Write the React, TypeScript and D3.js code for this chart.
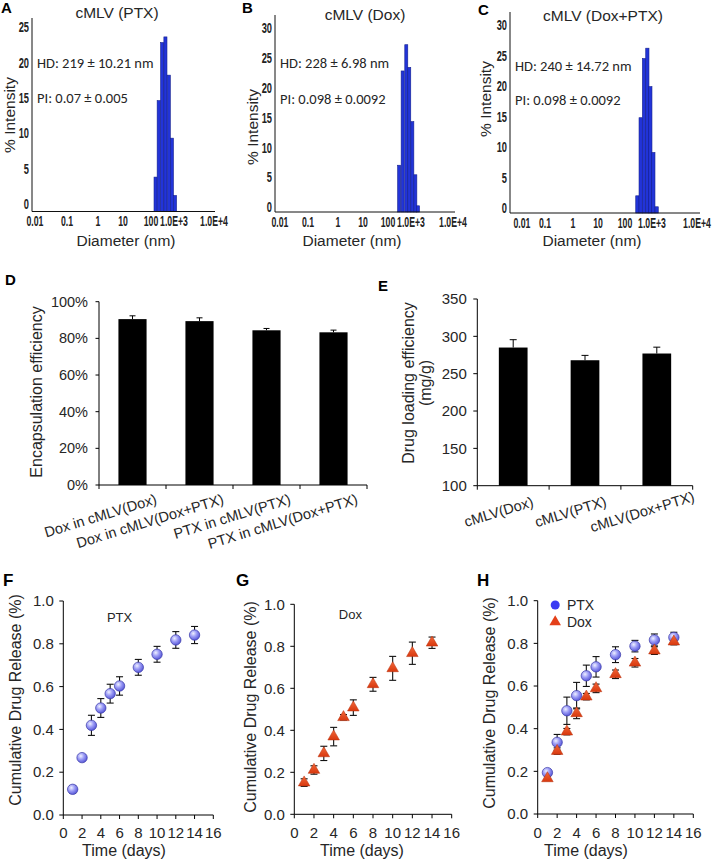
import React from "react";
import * as d3 from "d3";

const FONT = "'Liberation Sans', Arial, Helvetica, sans-serif";
const CAL = "Carlito, Lato, 'Liberation Sans', sans-serif";
const INK = "#262626";

// ---------- A–C : size distribution ----------
const histLetters = ["A", "B", "C"];
const histTitles = ["cMLV (PTX)", "cMLV (Dox)", "cMLV (Dox+PTX)"];
const hdTexts = ["HD: 219 ± 10.21 nm", "HD: 228 ± 6.98 nm", "HD: 240 ± 14.72 nm"];
const piTexts = ["PI: 0.07 ± 0.005", "PI: 0.098 ± 0.0092", "PI: 0.098 ± 0.0092"];
const diameterTicks = [0.01, 0.1, 1, 10, 100, 1000, 10000];
const diameterTickLabels = ["0.01", "0.1", "1", "10", "100", "1.0E+3", "1.0E+4"];
const binDiametersPTX = [158, 216, 305, 424, 593, 811, 1059];
const intensityPTX = [3.8, 14.6, 22.8, 23.6, 18.2, 9.3, 1.2];
const binDiametersDox = [305, 433, 624, 841, 1077, 1270, 1468];
const intensityDox = [7.0, 22.8, 27.2, 23.4, 14.3, 5.4, 0.2];
const binDiametersDoxPTX = [287, 380, 505, 673, 869, 1072, 1268];
const intensityDoxPTX = [2.0, 14.8, 24.5, 26.2, 19.9, 9.1, 0.2];
const intensityTicksPTX = [0, 5, 10, 15, 20, 25];
const intensityTicksDox = [0, 5, 10, 15, 20, 25, 30];

// ---------- D : encapsulation efficiency ----------
const eeCategories = ["Dox in cMLV(Dox)", "Dox in cMLV(Dox+PTX)", "PTX in cMLV(PTX)", "PTX in cMLV(Dox+PTX)"];
const eeValues = [90.5, 89.4, 84.4, 83.3];
const eeErrors = [1.8, 1.8, 1.0, 1.2];
const eeTicks = [0, 20, 40, 60, 80, 100];

// ---------- E : drug loading efficiency ----------
const dleCategories = ["cMLV(Dox)", "cMLV(PTX)", "cMLV(Dox+PTX)"];
const dleValues = [285, 268, 277];
const dleErrors = [10.5, 6.5, 8.5];
const dleTicks = [100, 150, 200, 250, 300, 350];

// ---------- F–H : cumulative release ----------
const days = [1, 2, 3, 4, 5, 6, 8, 10, 12, 14];
const releasePTX = [0.12, 0.268, 0.419, 0.5, 0.567, 0.603, 0.69, 0.751, 0.818, 0.841];
const releasePTXErr = [0.017, 0.008, 0.047, 0.044, 0.044, 0.043, 0.037, 0.037, 0.039, 0.04];
const releaseDox = [0.151, 0.211, 0.29, 0.37, 0.462, 0.508, 0.619, 0.695, 0.767, 0.817];
const releaseDoxErr = [0.018, 0.02, 0.034, 0.044, 0.013, 0.037, 0.033, 0.057, 0.053, 0.027];
const comboPTX = [0.194, 0.336, 0.484, 0.555, 0.648, 0.69, 0.747, 0.787, 0.816, 0.828];
const comboPTXErr = [0.01, 0.037, 0.064, 0.062, 0.05, 0.048, 0.037, 0.027, 0.028, 0.024];
const comboDox = [0.167, 0.295, 0.386, 0.472, 0.55, 0.589, 0.655, 0.709, 0.766, 0.808];
const comboDoxErr = [0.01, 0.015, 0.015, 0.025, 0.015, 0.02, 0.02, 0.02, 0.018, 0.015];
const timeTicks = [0, 2, 4, 6, 8, 10, 12, 14, 16];
const releaseTicks = [0, 0.2, 0.4, 0.6, 0.8, 1.0];

const histLayouts = [
  { left: 32, top: 18, bottom: 211.5, right: 215, tickPx: [35, 67, 98, 123, 151, 174, 214], barW: 3.1,
    zeroPx: 204, refVal: 25, refPx: 27,
    titleX: 117, titleY: 18, textX: 37, hdY: 68, piY: 103, ylabX: 10, ylabY: 115, xlabX: 126, xlabY: 246,
    letterX: 1, letterY: 13, tickY: 226 },
  { left: 275, top: 15, bottom: 212, right: 455, tickPx: [280, 308, 338, 363, 388, 411, 453], barW: 3.0,
    zeroPx: 207, refVal: 30, refPx: 28,
    titleX: 365, titleY: 20, textX: 280, hdY: 68, piY: 104, ylabX: 253, ylabY: 127, xlabX: 352, xlabY: 246,
    letterX: 242, letterY: 13, tickY: 227 },
  { left: 510, top: 12, bottom: 213, right: 700, tickPx: [522, 545, 573, 598, 625, 652, 697], barW: 3.25,
    zeroPx: 208, refVal: 30, refPx: 25,
    titleX: 603, titleY: 21, textX: 515, hdY: 71, piY: 105, ylabX: 486, ylabY: 99, xlabX: 592, xlabY: 246,
    letterX: 478, letterY: 15, tickY: 228 },
];

function Histogram({ i, bins, values, ticks }) {
  const L = histLayouts[i];
  const x = d3.scaleLog().domain(diameterTicks).range(L.tickPx);
  const y = d3.scaleLinear().domain([0, L.refVal]).range([L.zeroPx, L.refPx]);
  return (
    <g>
      <text x={L.letterX} y={L.letterY} fontFamily={FONT} fontWeight="bold" fontSize={15} fill="#000">{histLetters[i]}</text>
      <text x={L.titleX} y={L.titleY} textAnchor="middle" fontFamily={FONT} fontSize={15.5} fill={INK}>{histTitles[i]}</text>
      {values.map((v, k) => (
        <rect key={k} x={x(bins[k]) - L.barW / 2} width={L.barW} y={y(v)} height={L.bottom - y(v)}
          fill="#2234d8" stroke="#14208e" strokeWidth={0.6} />
      ))}
      <line x1={L.left} x2={L.left} y1={L.top} y2={L.bottom} stroke="#111" strokeWidth={1} />
      <line x1={L.left} x2={L.right} y1={L.bottom} y2={L.bottom} stroke="#111" strokeWidth={1} />
      {ticks.map((t) => (
        <text key={t} transform={`translate(${L.left - 3},${y(t)}) scale(0.62,1)`} dy="0.35em" textAnchor="end"
          fontFamily={FONT} fontWeight="bold" fontSize={15} fill="#222">{t}</text>
      ))}
      {diameterTicks.map((t, k) => (
        <text key={t} transform={`translate(${x(t)},${L.tickY}) scale(0.58,1)`} textAnchor="middle"
          fontFamily={FONT} fontWeight="bold" fontSize={15} fill="#222">{diameterTickLabels[k]}</text>
      ))}
      <text x={L.textX} y={L.hdY} fontFamily={CAL} fontSize={14.5} fill={INK}>{hdTexts[i]}</text>
      <text x={L.textX} y={L.piY} fontFamily={CAL} fontSize={14.5} fill={INK}>{piTexts[i]}</text>
      <text transform={`translate(${L.ylabX},${L.ylabY}) rotate(-90)`} textAnchor="middle" dy="0.35em"
        fontFamily={FONT} fontSize={15.5} fill={INK}>% Intensity</text>
      <text x={L.xlabX} y={L.xlabY} textAnchor="middle" fontFamily={FONT} fontSize={15.5} fill={INK}>Diameter (nm)</text>
    </g>
  );
}

function EEPanel() {
  const left = 99, right = 367, bottom = 485, top = 301.7;
  const x = d3.scaleBand().domain(eeCategories).range([left, right]).paddingInner(0.58).paddingOuter(0.29);
  const y = d3.scaleLinear().domain([0, 100]).range([bottom, top]);
  const step = x.step();
  const fmt = d3.format(".0%");
  return (
    <g fontFamily={FONT}>
      <text x={5} y={285} fontWeight="bold" fontSize={15} fill="#000">D</text>
      {eeCategories.map((c, k) => {
        const cx = x(c) + x.bandwidth() / 2;
        const ye = y(eeValues[k] + eeErrors[k]);
        return (
          <g key={c}>
            <rect x={x(c)} width={x.bandwidth()} y={y(eeValues[k])} height={bottom - y(eeValues[k])} fill="#000" />
            <line x1={cx} x2={cx} y1={y(eeValues[k])} y2={ye} stroke="#000" strokeWidth={1} />
            <line x1={cx - 3} x2={cx + 3} y1={ye} y2={ye} stroke="#000" strokeWidth={1} />
            <text transform={`translate(${cx + 22},${bottom + 8}) rotate(-17)`} textAnchor="end" dy="0.75em"
              fontSize={14.5} fill={INK}>{c}</text>
          </g>
        );
      })}
      <line x1={left} x2={left} y1={top} y2={bottom} stroke="#000" />
      <line x1={left} x2={right} y1={bottom} y2={bottom} stroke="#000" />
      {d3.range(eeCategories.length + 1).map((k) => (
        <line key={k} x1={left + k * step} x2={left + k * step} y1={bottom} y2={bottom + 4} stroke="#000" />
      ))}
      {eeTicks.map((t) => (
        <g key={t}>
          <line x1={left - 3.5} x2={left} y1={y(t)} y2={y(t)} stroke="#000" />
          <text x={left - 11} y={y(t)} dy="0.35em" textAnchor="end" fontSize={14.5} fill={INK}>{fmt(t / 100)}</text>
        </g>
      ))}
      <text transform={`translate(36,392) rotate(-90)`} textAnchor="middle" dy="0.35em" fontSize={16} fill={INK}>Encapsulation efficiency</text>
    </g>
  );
}

function DLEPanel() {
  const left = 477.3, right = 692.7, bottom = 485.7, top = 299;
  const x = d3.scaleBand().domain(dleCategories).range([left, right]).paddingInner(0.6).paddingOuter(0.3);
  const y = d3.scaleLinear().domain([100, 350]).range([bottom, top]);
  const step = x.step();
  return (
    <g fontFamily={FONT}>
      <text x={378} y={291} fontWeight="bold" fontSize={15} fill="#000">E</text>
      {dleCategories.map((c, k) => {
        const cx = x(c) + x.bandwidth() / 2;
        const ye = y(dleValues[k] + dleErrors[k]);
        return (
          <g key={c}>
            <rect x={x(c)} width={x.bandwidth()} y={y(dleValues[k])} height={bottom - y(dleValues[k])} fill="#000" />
            <line x1={cx} x2={cx} y1={y(dleValues[k])} y2={ye} stroke="#000" strokeWidth={1} />
            <line x1={cx - 3.5} x2={cx + 3.5} y1={ye} y2={ye} stroke="#000" strokeWidth={1} />
            <text transform={`translate(${cx - 14.5},${bottom + 26}) rotate(-17)`} textAnchor="middle" dy="0.35em"
              fontSize={14.5} fill={INK}>{c}</text>
          </g>
        );
      })}
      <line x1={left} x2={left} y1={top} y2={bottom} stroke="#000" />
      <line x1={left} x2={right} y1={bottom} y2={bottom} stroke="#000" />
      {d3.range(dleCategories.length + 1).map((k) => (
        <line key={k} x1={left + k * step} x2={left + k * step} y1={bottom} y2={bottom + 4} stroke="#000" />
      ))}
      {dleTicks.map((t) => (
        <g key={t}>
          <line x1={left - 4} x2={left} y1={y(t)} y2={y(t)} stroke="#000" />
          <text x={left - 10.5} y={y(t)} dy="0.35em" textAnchor="end" fontSize={15} fill={INK}>{t}</text>
        </g>
      ))}
      <text transform={`translate(408,383) rotate(-90)`} textAnchor="middle" dy="0.35em" fontSize={16} fill={INK}>Drug loading efficiency</text>
      <text transform={`translate(425,383) rotate(-90)`} textAnchor="middle" dy="0.35em" fontSize={16} fill={INK}>(mg/g)</text>
    </g>
  );
}

const releaseLayouts = [
  { left: 63.3, right: 213.3, zero: 815, one: 601, letter: "F", letterX: 3, ylabX: 15, ylabY: 700, xlabX: 124 },
  { left: 294.3, right: 451.7, zero: 814.3, one: 604.3, letter: "G", letterX: 236, ylabX: 250, ylabY: 707, xlabX: 362 },
  { left: 537.7, right: 693.3, zero: 814, one: 600.7, letter: "H", letterX: 477, ylabX: 489, ylabY: 703, xlabX: 586 },
];

const triangle = d3.symbol().type(d3.symbolTriangle).size(58)();

function ReleasePanel({ i, series, note, legend }) {
  const L = releaseLayouts[i];
  const x = d3.scaleLinear().domain([0, 16]).range([L.left, L.right]);
  const y = d3.scaleLinear().domain([0, 1]).range([L.zero, L.one]);
  const fmt = d3.format(".1f");
  return (
    <g fontFamily={FONT}>
      <text x={L.letterX} y={586} fontWeight="bold" fontSize={17} fill="#000">{L.letter}</text>
      {series.map((s, si) => (
        <g key={"e" + si}>
          {days.map((d, k) => {
            const cx = x(d), y1 = y(s.values[k] + s.errors[k]), y2 = y(s.values[k] - s.errors[k]);
            return (
              <g key={k} stroke="#111" strokeWidth={1.1}>
                <line x1={cx} x2={cx} y1={y1} y2={y2} />
                <line x1={cx - 3.5} x2={cx + 3.5} y1={y1} y2={y1} />
                <line x1={cx - 3.5} x2={cx + 3.5} y1={y2} y2={y2} />
              </g>
            );
          })}
        </g>
      ))}
      {series.map((s, si) => (
        <g key={"m" + si}>
          {days.map((d, k) =>
            s.kind === "circle" ? (
              <circle key={k} cx={x(d)} cy={y(s.values[k])} r={5.2} fill="url(#ball)" stroke="#3a3aa8" strokeWidth={0.7} />
            ) : (
              <path key={k} d={triangle} transform={`translate(${x(d)},${y(s.values[k])})`} fill="url(#tri)" stroke="#b8300c" strokeWidth={0.5} />
            )
          )}
        </g>
      ))}
      <line x1={L.left} x2={L.left} y1={L.one} y2={L.zero} stroke="#000" />
      <line x1={L.left} x2={L.right} y1={L.zero} y2={L.zero} stroke="#000" />
      {releaseTicks.map((t) => (
        <g key={t}>
          <line x1={L.left - 4} x2={L.left} y1={y(t)} y2={y(t)} stroke="#000" />
          <text x={L.left - 9.5} y={y(t)} dy="0.35em" textAnchor="end" fontSize={15} fill={INK}>{fmt(t)}</text>
        </g>
      ))}
      {timeTicks.map((t) => (
        <g key={t}>
          <line x1={x(t)} x2={x(t)} y1={L.zero} y2={L.zero + 4} stroke="#000" />
          <text x={x(t)} y={838} textAnchor="middle" fontSize={15} fill={INK}>{t}</text>
        </g>
      ))}
      <text x={L.xlabX} y={856} textAnchor="middle" fontSize={16} fill={INK}>Time (days)</text>
      <text transform={`translate(${L.ylabX},${L.ylabY}) rotate(-90)`} textAnchor="middle" dy="0.35em" fontSize={16} fill={INK}>Cumulative Drug Release (%)</text>
      {note && <text x={x(note.at)} y={y(note.level)} dy="0.35em" textAnchor="middle" fontSize={13} fill={INK}>{note.text}</text>}
      {legend && (
        <g>
          <circle cx={x(1.8)} cy={y(0.98)} r={4.5} fill="#3c3cf2" />
          <text x={x(3.0)} y={y(0.98)} dy="0.35em" fontSize={14} fill={INK}>PTX</text>
          <path d={triangle} transform={`translate(${x(1.8)},${y(0.9)})`} fill="#e4401a" />
          <text x={x(3.0)} y={y(0.9)} dy="0.35em" fontSize={14} fill={INK}>Dox</text>
        </g>
      )}
    </g>
  );
}

export default function App() {
  return (
    <svg width={715} height={860} viewBox="0 0 715 860"
      style={{ position: "absolute", left: 0, top: 0, display: "block", background: "#fff" }}>
      <defs>
        <radialGradient id="ball" cx="0.38" cy="0.35" r="0.7">
          <stop offset="0" stopColor="#eef0ff" />
          <stop offset="0.45" stopColor="#9c9cf6" />
          <stop offset="1" stopColor="#5050d4" />
        </radialGradient>
        <linearGradient id="tri" x1="0" y1="0" x2="0" y2="1">
          <stop offset="0" stopColor="#f2683a" />
          <stop offset="1" stopColor="#d8380e" />
        </linearGradient>
      </defs>
      <rect width={715} height={860} fill="#fff" />
      <Histogram i={0} bins={binDiametersPTX} values={intensityPTX} ticks={intensityTicksPTX} />
      <Histogram i={1} bins={binDiametersDox} values={intensityDox} ticks={intensityTicksDox} />
      <Histogram i={2} bins={binDiametersDoxPTX} values={intensityDoxPTX} ticks={intensityTicksDox} />
      <EEPanel />
      <DLEPanel />
      <ReleasePanel i={0} series={[{ values: releasePTX, errors: releasePTXErr, kind: "circle" }]} note={{ text: "PTX", at: 6, level: 0.925 }} />
      <ReleasePanel i={1} series={[{ values: releaseDox, errors: releaseDoxErr, kind: "triangle" }]} note={{ text: "Dox", at: 5.7, level: 0.95 }} />
      <ReleasePanel i={2} series={[
        { values: comboPTX, errors: comboPTXErr, kind: "circle" },
        { values: comboDox, errors: comboDoxErr, kind: "triangle" },
      ]} legend />
    </svg>
  );
}
